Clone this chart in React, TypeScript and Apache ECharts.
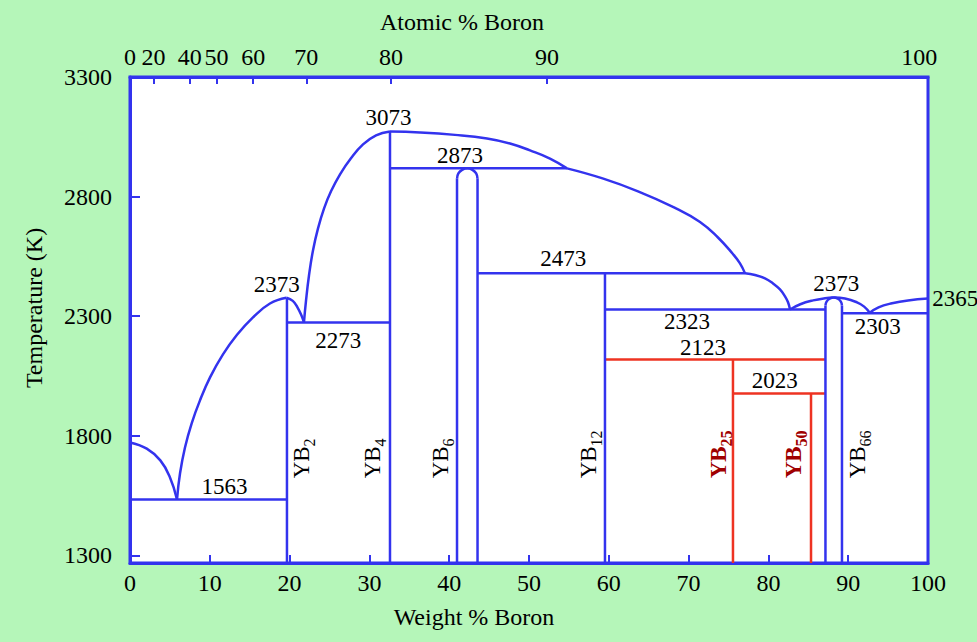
import React, { useEffect, useRef } from 'react';
import * as echarts from 'echarts';

const FONT = '"Liberation Serif", "Times New Roman", Times, serif';
const BLUE = '#3333ee';
const RED = '#ee3322';
const DARKRED = '#a00000';
const BG = '#b5f6b9';

// Axes
const weightTicks = [0, 10, 20, 30, 40, 50, 60, 70, 80, 90, 100];
const tempTicks = [1300, 1800, 2300, 2800, 3300];
const atomicLabels = ['0', '20', '40', '50', '60', '70', '80', '90', '100'];
const atomicLabelWeight = [0, 2.95, 7.5, 10.84, 15.43, 22.1, 32.72, 52.25, 98.9];
const atomicTickWeight = [2.95, 7.5, 10.84, 15.43, 22.1, 32.72, 52.25];
const T_MIN = 1268;

// Liquidus curves (weight % B, K)
const yLiquidus = [[0, 1772], [2.1, 1746], [3.8, 1697], [5.0, 1627], [5.89, 1534]];
const yb2Liquidus = [[5.89, 1534], [6.27, 1643], [6.89, 1751], [7.73, 1852], [8.77, 1948], [10.03, 2044], [11.65, 2140], [13.41, 2222], [15.41, 2295], [17.54, 2353], [19.6, 2377]];
const yb2Descent = [[19.6, 2377], [20.4, 2364], [21.0, 2336], [21.5, 2302], [21.8, 2274]];
const yb4Liquidus = [[21.8, 2274], [22.06, 2366], [22.43, 2470], [22.93, 2575], [23.56, 2667], [24.31, 2750], [25.19, 2822], [26.32, 2893], [27.69, 2960], [29.2, 3018], [30.83, 3056], [32.58, 3072]];
const yb6Liquidus = [[32.58, 3072], [36.34, 3068], [40.73, 3058], [44.74, 3043], [47.62, 3022], [50.13, 2993], [52.63, 2959], [54.76, 2918]];
const yb12Liquidus = [[54.76, 2918], [59.22, 2876], [63.66, 2822], [68.17, 2755], [71.43, 2694], [73.68, 2629], [75.5, 2562], [76.44, 2521], [77.07, 2479]];
const yb12Descent = [[77.07, 2479], [78.32, 2472], [79.57, 2458], [80.58, 2437], [81.45, 2412], [82.08, 2383], [82.46, 2358], [82.71, 2328]];
const yb66LeftRise = [[82.71, 2328], [84.0, 2350], [85.6, 2366], [87.1, 2375], [88.2, 2378]];
const yb66RightFall = [[88.2, 2378], [89.6, 2374], [91.1, 2358], [92.0, 2340], [92.7, 2314]];
const boronLiquidus = [[92.7, 2314], [93.8, 2337], [95.5, 2354], [97.5, 2366], [100, 2374]];

// Invariant lines and compound lines (blue)
const yb2Line = [[19.67, T_MIN], [19.67, 2377]];
const eut1563 = [[0, 1533], [19.67, 1533]];
const eut2273 = [[19.67, 2274], [32.58, 2274]];
const yb4Line = [[32.58, T_MIN], [32.58, 3072]];
const per2873 = [[32.58, 2918], [54.76, 2918]];
const yb6Left = [[40.98, T_MIN], [40.98, 2875]];
const yb6Right = [[43.55, T_MIN], [43.55, 2875]];
const yb6Top = [[40.98, 2875], [41.15, 2897], [41.63, 2912], [42.27, 2918], [42.91, 2912], [43.38, 2897], [43.55, 2875]];
const per2473 = [[43.55, 2479], [77.07, 2479]];
const yb12Line = [[59.52, T_MIN], [59.52, 2479]];
const per2323 = [[59.52, 2328], [87.15, 2328]];
const yb66Left = [[87.15, T_MIN], [87.15, 2344]];
const yb66Right = [[89.22, T_MIN], [89.22, 2344]];
const yb66Top = [[87.15, 2344], [87.29, 2361], [87.67, 2373], [88.18, 2378], [88.7, 2373], [89.08, 2361], [89.22, 2344]];
const eut2303 = [[89.22, 2312], [100, 2312]];

// Red lines
const red2123 = [[59.52, 2119], [87.15, 2119]];
const yb25Line = [[75.56, T_MIN], [75.56, 2119]];
const red2023 = [[75.56, 1977], [87.15, 1977]];
const yb50Line = [[85.34, T_MIN], [85.34, 1977]];

// Temperature labels
const tempLabelText = ['3073', '2873', '2473', '2373', '2273', '1563', '2323', '2123', '2023', '2373', '2303', '2365'];
const tempLabelPos = [[32.4, 3131], [41.35, 2972], [54.3, 2541], [18.4, 2433], [26.1, 2199], [11.85, 1588], [69.8, 2278], [71.8, 2169], [80.8, 2032], [88.5, 2435], [93.7, 2257], [103.4, 2374]];

// Phase labels (rotated)
const phaseSub = ['2', '4', '6', '12', '66'];
const phasePos = [[21.55, 1622], [30.45, 1622], [38.85, 1622], [57.4, 1622], [91.2, 1622]];
const boldPhaseSub = ['25', '50'];
const boldPhasePos = [[73.7, 1622], [83.2, 1622]];

const line = (data: number[][], color = BLUE, smooth: number | boolean = false) => ({
  type: 'line',
  data,
  smooth,
  showSymbol: false,
  symbol: 'none',
  silent: true,
  lineStyle: { color, width: 2.5 },
  z: 3,
});

const transparent = { color: 'rgba(0,0,0,0)' };
const labelBase = { color: '#000', textBorderWidth: 0, opacity: 1, fontFamily: FONT };
const S = 0.45;

export default function App() {
  const ref = useRef<HTMLDivElement>(null);
  useEffect(() => {
    const chart = echarts.init(ref.current!, null, { renderer: 'svg' });
    const axisLine = { show: true, lineStyle: { color: BLUE, width: 3 } };
    const option: any = {
      animation: false,
      backgroundColor: BG,
      grid: {
        left: 130, right: 49, top: 77, bottom: 79,
        show: true, backgroundColor: '#ffffff', borderColor: BLUE, borderWidth: 3,
      },
      xAxis: [
        {
          type: 'value', position: 'bottom', min: 0, max: 100,
          axisLine,
          splitLine: { show: false },
          axisTick: { show: true, inside: true, length: 8, customValues: weightTicks, lineStyle: { color: BLUE, width: 2 } },
          axisLabel: { customValues: weightTicks, color: '#000', fontSize: 24, fontFamily: FONT, margin: 8, formatter: (v: number) => String(v) },
          name: 'Weight % Boron', nameLocation: 'middle', nameGap: 42,
          nameTextStyle: { color: '#000', fontSize: 24, fontFamily: FONT, padding: [0, 110, 0, 0] },
        },
        {
          type: 'value', position: 'top', min: 0, max: 100,
          axisLine,
          splitLine: { show: false },
          axisTick: { show: true, inside: true, length: 7, customValues: atomicTickWeight, lineStyle: { color: BLUE, width: 2 } },
          axisLabel: {
            customValues: atomicLabelWeight, color: '#000', fontSize: 24, fontFamily: FONT, margin: 8,
            formatter: (v: number) => {
              const i = atomicLabelWeight.findIndex((w) => Math.abs(w - v) < 1e-6);
              return i >= 0 ? atomicLabels[i] : '';
            },
          },
          name: 'Atomic % Boron', nameLocation: 'middle', nameGap: 43,
          nameTextStyle: { color: '#000', fontSize: 24, fontFamily: FONT, padding: [0, 134, 0, 0] },
        },
      ],
      yAxis: [
        {
          type: 'value', min: T_MIN, max: 3300, position: 'left',
          axisLine,
          splitLine: { show: false },
          axisTick: { show: true, inside: true, length: 10, customValues: tempTicks, lineStyle: { color: BLUE, width: 2 } },
          axisLabel: { customValues: tempTicks, color: '#000', fontSize: 24, fontFamily: FONT, margin: 18, formatter: (v: number) => String(v) },
          name: 'Temperature (K)', nameLocation: 'middle', nameGap: 84, nameRotate: 90,
          nameTextStyle: { color: '#000', fontSize: 24, fontFamily: FONT, padding: [0, 0, 0, 24] },
        },
      ],
      series: [
        line(red2123, RED), line(yb25Line, RED), line(red2023, RED), line(yb50Line, RED),
        line(yLiquidus, BLUE, S), line(yb2Liquidus, BLUE, S), line(yb2Descent, BLUE, S),
        line(yb4Liquidus, BLUE, S), line(yb6Liquidus, BLUE, S), line(yb12Liquidus, BLUE, S),
        line(yb12Descent, BLUE, S),
        line(yb66LeftRise, BLUE, S), line(yb66RightFall, BLUE, S), line(boronLiquidus, BLUE, S),
        line(yb2Line), line(eut1563), line(eut2273), line(yb4Line), line(per2873),
        line(yb6Left), line(yb6Right), line(yb6Top, BLUE, 0.5), line(per2473), line(yb12Line),
        line(per2323), line(yb66Left), line(yb66Right), line(yb66Top, BLUE, 0.5), line(eut2303),
        {
          type: 'scatter', silent: true, clip: false, symbolSize: 1, itemStyle: transparent,
          data: tempLabelPos.map((p, i) => ({ value: p, name: tempLabelText[i] })),
          label: { show: true, position: 'inside', formatter: '{b}', fontSize: 23, ...labelBase },
          z: 5,
        },
        {
          type: 'scatter', silent: true, clip: false, symbolSize: 1, itemStyle: transparent,
          data: phasePos.map((p, i) => ({ value: p, sub: phaseSub[i] })),
          label: {
            show: true, position: 'inside', rotate: 90, align: 'left', verticalAlign: 'middle',
            textBorderWidth: 0, opacity: 1,
            formatter: (p: any) => `{a|YB}{s|${p.data.sub}}`,
            rich: {
              a: { ...labelBase, fontSize: 23, lineHeight: 32 },
              s: { ...labelBase, fontSize: 16, lineHeight: 16, verticalAlign: 'bottom' },
            },
          },
          z: 5,
        },
        {
          type: 'scatter', silent: true, clip: false, symbolSize: 1, itemStyle: transparent,
          data: boldPhasePos.map((p, i) => ({ value: p, sub: boldPhaseSub[i] })),
          label: {
            show: true, position: 'inside', rotate: 90, align: 'left', verticalAlign: 'middle',
            textBorderWidth: 0, opacity: 1,
            formatter: (p: any) => `{a|YB}{s|${p.data.sub}}`,
            rich: {
              a: { ...labelBase, color: DARKRED, fontSize: 23, fontWeight: 'bold', lineHeight: 32 },
              s: { ...labelBase, color: DARKRED, fontSize: 16, fontWeight: 'bold', lineHeight: 16, verticalAlign: 'bottom' },
            },
          },
          z: 5,
        },
      ],
    };
    chart.setOption(option);
    return () => chart.dispose();
  }, []);
  return <div ref={ref} style={{ position: 'fixed', left: 0, top: 0, width: 977, height: 642 }} />;
}
